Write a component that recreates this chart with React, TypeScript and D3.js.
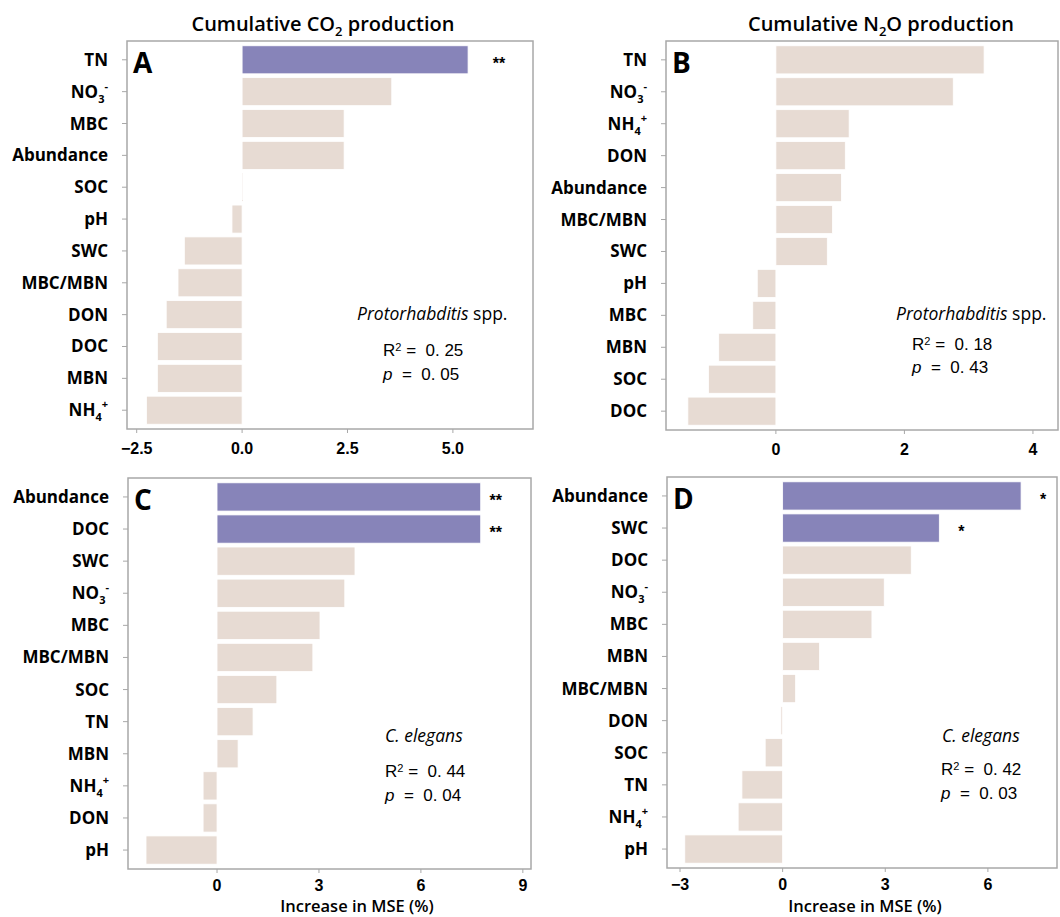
import React from "react";
import * as d3 from "d3";

// Panel A: cumulative CO2, Protorhabditis spp.
const labelsA = ["TN", "NO3-", "MBC", "Abundance", "SOC", "pH", "SWC", "MBC/MBN", "DON", "DOC", "MBN", "NH4+"];
const valuesA = [5.36, 3.55, 2.42, 2.42, 0.02, -0.24, -1.37, -1.52, -1.8, -2.01, -2.01, -2.27];
const sigA = ["**", "", "", "", "", "", "", "", "", "", "", ""];
const ticksA = [-2.5, 0, 2.5, 5];

// Panel B: cumulative N2O, Protorhabditis spp.
const labelsB = ["TN", "NO3-", "NH4+", "DON", "Abundance", "MBC/MBN", "SWC", "pH", "MBC", "MBN", "SOC", "DOC"];
const valuesB = [3.24, 2.76, 1.14, 1.08, 1.02, 0.88, 0.8, -0.29, -0.36, -0.89, -1.05, -1.37];
const sigB = ["", "", "", "", "", "", "", "", "", "", "", ""];
const ticksB = [0, 2, 4];

// Panel C: cumulative CO2, C. elegans
const labelsC = ["Abundance", "DOC", "SWC", "NO3-", "MBC", "MBC/MBN", "SOC", "TN", "MBN", "NH4+", "DON", "pH"];
const valuesC = [7.76, 7.76, 4.06, 3.76, 3.03, 2.82, 1.76, 1.06, 0.62, -0.41, -0.41, -2.09];
const sigC = ["**", "**", "", "", "", "", "", "", "", "", "", ""];
const ticksC = [0, 3, 6, 9];

// Panel D: cumulative N2O, C. elegans
const labelsD = ["Abundance", "SWC", "DOC", "NO3-", "MBC", "MBN", "MBC/MBN", "DON", "SOC", "TN", "NH4+", "pH"];
const valuesD = [6.97, 4.58, 3.76, 2.97, 2.61, 1.08, 0.38, -0.05, -0.51, -1.19, -1.3, -2.86];
const sigD = ["*", "*", "", "", "", "", "", "", "", "", "", ""];
const ticksD = [-3, 0, 3, 6];

const statsA = { r2: "0. 25", p: "0. 05" };
const statsB = { r2: "0. 18", p: "0. 43" };
const statsC = { r2: "0. 44", p: "0. 04" };
const statsD = { r2: "0. 42", p: "0. 03" };

const PURPLE = "#8784b9";
const BEIGE = "#e7dbd3";
const FRAME = "#a8a8a8";
const LABEL_FONT = "'Open Sans', 'Noto Sans', sans-serif";
const NUM_FONT = "'Liberation Sans', Arial, sans-serif";

type Panel = {
  id: string;
  labels: string[];
  values: number[];
  sig: string[];
  ticks: number[];
  fmt: string;
  box: [number, number, number, number];
  domain: [number, number];
  starOffset: number;
  tickDy: number;
  species: "proto" | "eleg";
  stats: { r2: string; p: string };
  statPos: { sx: number; sy: number; rx: number; ry: number; py: number };
  axisTitle?: number;
};

const panels: Panel[] = [
  {
    id: "A", labels: labelsA, values: valuesA, sig: sigA, ticks: ticksA, fmt: ".1f",
    box: [127, 533, 41, 429], domain: [-2.73, 6.9], starOffset: 31, tickDy: 25, species: "proto", stats: statsA,
    statPos: { sx: 357, sy: 320, rx: 383, ry: 356, py: 380 },
  },
  {
    id: "B", labels: labelsB, values: valuesB, sig: sigB, ticks: ticksB, fmt: "d",
    box: [666, 1058, 41, 430], domain: [-1.71, 4.39], starOffset: 0, tickDy: 25, species: "proto", stats: statsB,
    statPos: { sx: 896, sy: 320, rx: 912, ry: 350, py: 373 },
  },
  {
    id: "C", labels: labelsC, values: valuesC, sig: sigC, ticks: ticksC, fmt: "d",
    box: [128, 531, 478, 869], domain: [-2.62, 9.24], starOffset: 15, tickDy: 22, species: "eleg", stats: statsC,
    statPos: { sx: 385, sy: 742, rx: 385, ry: 777, py: 801 }, axisTitle: 357,
  },
  {
    id: "D", labels: labelsD, values: valuesD, sig: sigD, ticks: ticksD, fmt: "d",
    box: [667, 1057, 477, 868], domain: [-3.38, 8.02], starOffset: 22, tickDy: 22, species: "eleg", stats: statsD,
    statPos: { sx: 942, sy: 742, rx: 941, ry: 775, py: 799 }, axisTitle: 865,
  },
];

// renders chemistry labels like NO3- / NH4+ with sub/superscripts
const ChemLabel = ({ name }: { name: string }) => {
  const m = name.match(/^(N[OH])(\d)([+-])$/);
  if (!m) return <>{name}</>;
  return (
    <>
      <tspan>{m[1]}</tspan>
      <tspan fontSize="11" dy="5">{m[2]}</tspan>
      <tspan fontSize="11" dy="-13">{m[3]}</tspan>
    </>
  );
};

const PanelChart = ({ p }: { p: Panel }) => {
  const [x0, x1, y0, y1] = p.box;
  const x = d3.scaleLinear().domain(p.domain).range([x0, x1]);
  const y = d3.scaleBand<string>().domain(p.labels).range([y0, y1]).paddingInner(0.12).paddingOuter(0.15);
  const fmt = d3.format(p.fmt);
  const bw = y.bandwidth();

  return (
    <g>
      {p.values.map((v, i) => {
        const lab = p.labels[i];
        return (
          <rect
            key={lab}
            x={Math.min(x(0), x(v))}
            y={y(lab)!}
            width={Math.abs(x(v) - x(0))}
            height={bw}
            fill={p.sig[i] ? PURPLE : BEIGE}
            stroke="#fff"
            strokeWidth={0.8}
          />
        );
      })}
      {p.sig.map((s, i) =>
        s ? (
          <text
            key={"s" + i}
            x={x(p.values[i]) + p.starOffset}
            y={y(p.labels[i])! + bw / 2 + 9}
            textAnchor="middle"
            fontFamily={NUM_FONT}
            fontWeight="bold"
            fontSize={16}
          >
            {s}
          </text>
        ) : null
      )}
      <rect x={x0} y={y0} width={x1 - x0} height={y1 - y0} fill="none" stroke={FRAME} strokeWidth={1.5} />
      {p.labels.map((lab) => {
        const cy = y(lab)! + bw / 2;
        return (
          <g key={"l" + lab}>
            <line x1={x0 - 5} x2={x0} y1={cy} y2={cy} stroke={FRAME} strokeWidth={1} />
            <text
              x={x0 - 19}
              y={cy + 6}
              textAnchor="end"
              fontFamily={LABEL_FONT}
              fontWeight="bold"
              fontSize={17}
            >
              <ChemLabel name={lab} />
            </text>
          </g>
        );
      })}
      {p.ticks.map((t) => (
        <g key={"t" + t}>
          <line x1={x(t)} x2={x(t)} y1={y1} y2={y1 + 4} stroke={FRAME} strokeWidth={1} />
          <text
            x={x(t)}
            y={y1 + p.tickDy}
            textAnchor="middle"
            fontFamily={NUM_FONT}
            fontWeight="bold"
            fontSize={16}
          >
            {fmt(t)}
          </text>
        </g>
      ))}
      <text x={x0 + 6} y={y0 + 32} fontFamily={LABEL_FONT} fontWeight="bold" fontSize={28}>
        {p.id}
      </text>
      <text x={p.statPos.sx} y={p.statPos.sy} fontFamily={LABEL_FONT} fontSize={17.5}>
        {p.species === "proto" ? (
          <>
            <tspan fontStyle="italic">Protorhabditis</tspan>
            <tspan> spp.</tspan>
          </>
        ) : (
          <tspan fontStyle="italic">C. elegans</tspan>
        )}
      </text>
      <text x={p.statPos.rx} y={p.statPos.ry} fontFamily={NUM_FONT} fontSize={17} style={{ whiteSpace: "pre" }}>
        <tspan>R</tspan>
        <tspan fontSize={11} dy={-5}>2</tspan>
        <tspan dy={5}>{" =  " + p.stats.r2}</tspan>
      </text>
      <text x={p.statPos.rx} y={p.statPos.py} fontFamily={NUM_FONT} fontSize={17} style={{ whiteSpace: "pre" }}>
        <tspan fontStyle="italic">p</tspan>
        <tspan>{"  =  " + p.stats.p}</tspan>
      </text>
      {p.axisTitle !== undefined && (
        <text
          x={p.axisTitle}
          y={912}
          textAnchor="middle"
          fontFamily={LABEL_FONT}
          fontWeight={600}
          fontSize={16.5}
        >
          Increase in MSE (%)
        </text>
      )}
    </g>
  );
};

const App = () => {
  return (
    <div style={{ position: "absolute", left: 0, top: 0 }}>
      <svg width={1060} height={917} style={{ display: "block", background: "#fff" }}>
        <text x={323} y={31} textAnchor="middle" fontFamily={LABEL_FONT} fontWeight={600} fontSize={20}>
          <tspan>Cumulative CO</tspan>
          <tspan fontSize={13} dy={5}>2</tspan>
          <tspan dy={-5}> production</tspan>
        </text>
        <text x={881} y={31} textAnchor="middle" fontFamily={LABEL_FONT} fontWeight={600} fontSize={20}>
          <tspan>Cumulative N</tspan>
          <tspan fontSize={13} dy={5}>2</tspan>
          <tspan dy={-5}>O production</tspan>
        </text>
        {panels.map((p) => (
          <PanelChart key={p.id} p={p} />
        ))}
      </svg>
    </div>
  );
};

export default App;
